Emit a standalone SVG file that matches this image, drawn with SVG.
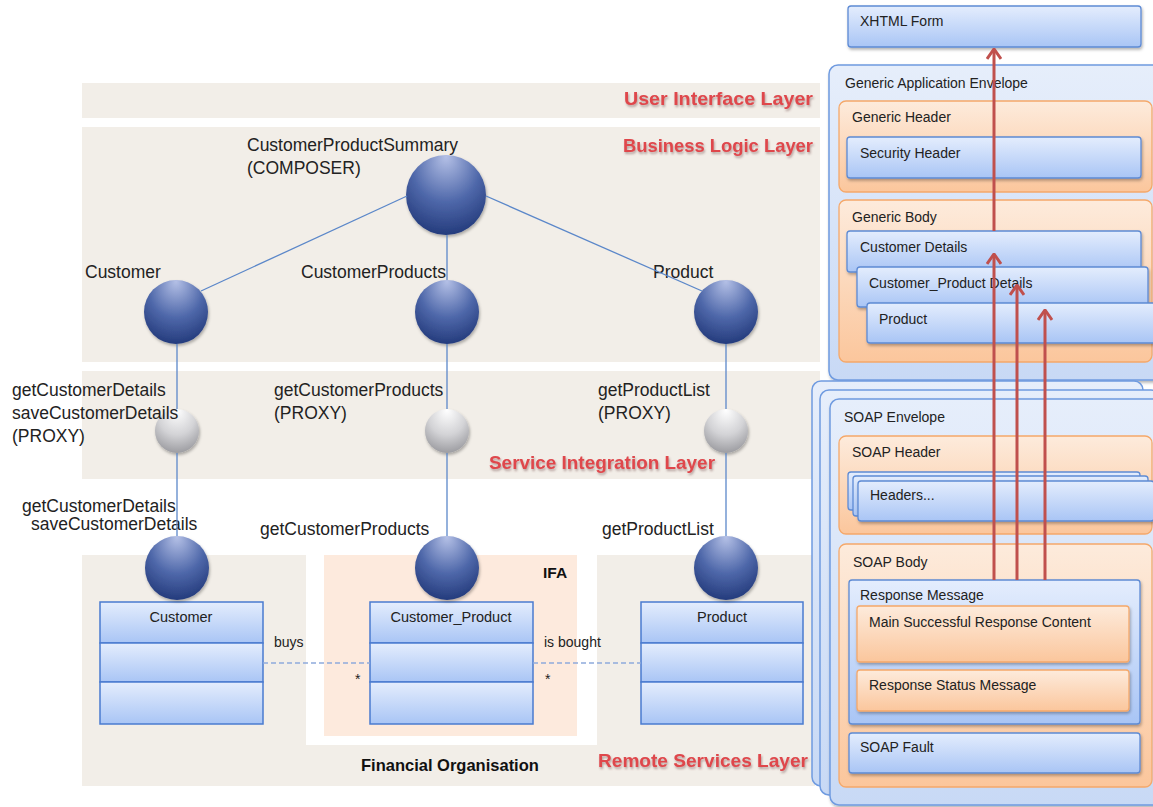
<svg xmlns="http://www.w3.org/2000/svg" width="1153" height="807" viewBox="0 0 1153 807">
  <defs>
    <linearGradient id="gBlue" x1="0" y1="0" x2="0" y2="1">
      <stop offset="0" stop-color="#e4edfd"/>
      <stop offset="1" stop-color="#a9c5f5"/>
    </linearGradient>
    <linearGradient id="gOrange" x1="0" y1="0" x2="0" y2="1">
      <stop offset="0" stop-color="#fdebdc"/>
      <stop offset="1" stop-color="#fbc69c"/>
    </linearGradient>
    <linearGradient id="gEnv" x1="0" y1="0" x2="0" y2="1">
      <stop offset="0" stop-color="#e6eefb"/>
      <stop offset="1" stop-color="#c8d9f5"/>
    </linearGradient>
    <radialGradient id="gSphere" cx="0.5" cy="0.3" r="0.75" fx="0.5" fy="0.02">
      <stop offset="0" stop-color="#b4c0e6"/>
      <stop offset="0.55" stop-color="#4f68aa"/>
      <stop offset="1" stop-color="#1f3677"/>
    </radialGradient>
    <radialGradient id="gProxy" cx="0.5" cy="0.3" r="0.75" fx="0.5" fy="0.02">
      <stop offset="0" stop-color="#ffffff"/>
      <stop offset="0.55" stop-color="#d3d3d6"/>
      <stop offset="1" stop-color="#96969b"/>
    </radialGradient>
    <filter id="shadow" x="-10%" y="-10%" width="125%" height="130%">
      <feDropShadow dx="1" dy="2" stdDeviation="1.4" flood-color="#000" flood-opacity="0.3"/>
    </filter>
    <filter id="redShadow" x="-5%" y="-30%" width="110%" height="170%">
      <feDropShadow dx="1" dy="2" stdDeviation="1.2" flood-color="#6b4040" flood-opacity="0.45"/>
    </filter>
    <marker id="arrowHead" viewBox="0 0 12 16" refX="11" refY="8" markerWidth="12" markerHeight="16" markerUnits="userSpaceOnUse" orient="auto">
      <path d="M1,1 L11,8 L1,15" fill="none" stroke="#c0504d" stroke-width="3"/>
    </marker>
    <style>
      .band { fill: #f2eee8; }
      .lbl { font-family: "Liberation Sans", Arial, sans-serif; font-size: 17.5px; fill: #222; }
      .layer { font-family: "Liberation Sans", Arial, sans-serif; font-size: 19px; font-weight: bold; fill: #df474c; filter: url(#redShadow); }
      .box { fill: url(#gBlue); stroke: #5d8ad4; stroke-width: 1.3; }
      .cls { fill: url(#gBlue); stroke: #4a7bcf; stroke-width: 1.5; }
      .env { fill: url(#gEnv); stroke: #6f9be0; stroke-width: 1.5; }
      .org { fill: url(#gOrange); stroke: #f5a86a; stroke-width: 1.3; }
      .txt { font-family: "Liberation Sans", Arial, sans-serif; font-size: 14px; fill: #222; }
      .title { font-family: "Liberation Sans", Arial, sans-serif; font-size: 14.5px; fill: #222; text-anchor: middle; }
      .bold { font-family: "Liberation Sans", Arial, sans-serif; font-weight: bold; fill: #111; }
      .sphere { fill: url(#gSphere); filter: url(#shadow); }
      .proxy { fill: url(#gProxy); filter: url(#shadow); }
      .link { stroke: #5b87c9; stroke-width: 1.3; fill: none; }
      .assoc { stroke: #8eaadb; stroke-width: 1.6; stroke-dasharray: 5 3; fill: none; }
      .flow { stroke: #c0504d; stroke-width: 3; fill: none; marker-end: url(#arrowHead); }
    </style>
  </defs>

  <rect width="1153" height="807" fill="#ffffff"/>

  <!-- layer bands -->
  <g id="layers">
    <rect class="band" x="82" y="83" width="738" height="35"/>
    <rect class="band" x="82" y="127" width="738" height="235"/>
    <rect class="band" x="82" y="371" width="738" height="108"/>
    <rect class="band" x="82" y="555" width="733" height="231"/>
    <rect x="306" y="555" width="291" height="190" fill="#ffffff"/>
    <rect x="324" y="555" width="253" height="181" fill="#fdeadd"/>
    <text class="layer" x="624" y="105" textLength="189" lengthAdjust="spacingAndGlyphs">User Interface Layer</text>
    <text class="layer" x="623" y="152" textLength="190" lengthAdjust="spacingAndGlyphs">Business Logic Layer</text>
    <text class="layer" x="489" y="469" textLength="226" lengthAdjust="spacingAndGlyphs">Service Integration Layer</text>
    <text class="layer" x="598" y="767" textLength="210" lengthAdjust="spacingAndGlyphs">Remote Services Layer</text>
    <text class="bold" x="361" y="771" font-size="16.5">Financial Organisation</text>
    <text class="bold" x="543" y="578" font-size="15.5">IFA</text>
  </g>

  <!-- business logic services -->
  <g id="composer">
    <circle class="sphere" cx="446" cy="195" r="40"/>
    <text class="lbl" x="247" y="151">CustomerProductSummary</text>
    <text class="lbl" x="247" y="174">(COMPOSER)</text>
  </g>
  <g id="bl-customer">
    <circle class="sphere" cx="176" cy="312" r="32"/>
    <text class="lbl" x="85" y="278">Customer</text>
  </g>
  <g id="bl-customerproducts">
    <circle class="sphere" cx="447" cy="312" r="32"/>
    <text class="lbl" x="301" y="278">CustomerProducts</text>
  </g>
  <g id="bl-product">
    <circle class="sphere" cx="726" cy="312" r="32"/>
    <text class="lbl" x="653" y="278">Product</text>
  </g>

  <!-- service integration proxies -->
  <g id="proxy-customer">
    <circle class="proxy" cx="177" cy="431" r="22"/>
    <text class="lbl" x="12" y="396">getCustomerDetails</text>
    <text class="lbl" x="12" y="419">saveCustomerDetails</text>
    <text class="lbl" x="12" y="442">(PROXY)</text>
  </g>
  <g id="proxy-customerproducts">
    <circle class="proxy" cx="447" cy="431" r="22"/>
    <text class="lbl" x="274" y="396">getCustomerProducts</text>
    <text class="lbl" x="274" y="419">(PROXY)</text>
  </g>
  <g id="proxy-product">
    <circle class="proxy" cx="726" cy="431" r="22"/>
    <text class="lbl" x="598" y="396">getProductList</text>
    <text class="lbl" x="598" y="419">(PROXY)</text>
  </g>

  <!-- remote services -->
  <g id="rs-customer">
    <rect class="cls" x="100" y="602" width="163" height="41"/>
    <rect class="cls" x="100" y="643" width="163" height="39"/>
    <rect class="cls" x="100" y="682" width="163" height="42"/>
    <text class="title" x="181" y="622">Customer</text>
    <circle class="sphere" cx="177" cy="568" r="32"/>
    <text class="lbl" x="22" y="512">getCustomerDetails</text>
    <text class="lbl" x="31" y="530">saveCustomerDetails</text>
  </g>
  <g id="rs-customerproduct">
    <rect class="cls" x="370" y="602" width="163" height="41"/>
    <rect class="cls" x="370" y="643" width="163" height="39"/>
    <rect class="cls" x="370" y="682" width="163" height="42"/>
    <text class="title" x="451" y="622">Customer_Product</text>
    <circle class="sphere" cx="447" cy="568" r="32"/>
    <text class="lbl" x="260" y="535">getCustomerProducts</text>
  </g>
  <g id="rs-product">
    <rect class="cls" x="641" y="602" width="162" height="41"/>
    <rect class="cls" x="641" y="643" width="162" height="39"/>
    <rect class="cls" x="641" y="682" width="162" height="42"/>
    <text class="title" x="722" y="622">Product</text>
    <circle class="sphere" cx="726" cy="568" r="32"/>
    <text class="lbl" x="602" y="535">getProductList</text>
  </g>

  <!-- XHTML form -->
  <g id="xhtml-form">
    <rect class="box" x="848" y="6" width="293" height="41" rx="3" filter="url(#shadow)"/>
    <text class="txt" x="860" y="26">XHTML Form</text>
  </g>

  <!-- generic application envelope -->
  <g id="generic-envelope">
    <rect class="env" x="829" y="65" width="340" height="315" rx="9" filter="url(#shadow)"/>
    <text class="txt" x="845" y="88">Generic Application Envelope</text>
  </g>
  <g id="generic-header">
    <rect class="org" x="839" y="101" width="313" height="91" rx="7"/>
    <text class="txt" x="852" y="122">Generic Header</text>
    <rect class="box" x="847" y="137" width="294" height="41" rx="3" filter="url(#shadow)"/>
    <text class="txt" x="860" y="158">Security Header</text>
  </g>
  <g id="generic-body">
    <rect class="org" x="839" y="200" width="313" height="162" rx="7"/>
    <text class="txt" x="852" y="222">Generic Body</text>
  </g>
  <g id="customer-details">
    <rect class="box" x="847" y="231" width="294" height="41" rx="3" filter="url(#shadow)"/>
    <text class="txt" x="860" y="252">Customer Details</text>
  </g>
  <g id="customer-product-details">
    <rect class="box" x="857" y="267" width="291" height="40" rx="3" filter="url(#shadow)"/>
    <text class="txt" x="869" y="288">Customer_Product Details</text>
  </g>
  <g id="product-details">
    <rect class="box" x="867" y="303" width="300" height="40" rx="3" filter="url(#shadow)"/>
    <text class="txt" x="879" y="324">Product</text>
  </g>

  <!-- SOAP envelope stack -->
  <g id="soap-envelope">
    <rect class="env" x="812" y="381" width="331" height="405" rx="9"/>
    <rect class="env" x="820" y="390" width="340" height="405" rx="9"/>
    <rect class="env" x="830" y="399" width="340" height="406" rx="9" filter="url(#shadow)"/>
    <text class="txt" x="844" y="422">SOAP Envelope</text>
  </g>
  <g id="soap-header">
    <rect class="org" x="839" y="436" width="313" height="98" rx="7"/>
    <text class="txt" x="852" y="457">SOAP Header</text>
    <rect class="box" x="848" y="472" width="292" height="38" rx="3"/>
    <rect class="box" x="853" y="476" width="295" height="40" rx="3"/>
    <rect class="box" x="858" y="481" width="296" height="40" rx="3" filter="url(#shadow)"/>
    <text class="txt" x="870" y="500">Headers...</text>
  </g>
  <g id="soap-body">
    <rect class="org" x="839" y="544" width="313" height="243" rx="7"/>
    <text class="txt" x="853" y="567">SOAP Body</text>
  </g>
  <g id="response-message">
    <rect class="box" x="849" y="580" width="291" height="144" rx="3" filter="url(#shadow)"/>
    <text class="txt" x="860" y="600">Response Message</text>
  </g>
  <g id="main-content">
    <rect class="org" x="857" y="606" width="272" height="56" rx="3" filter="url(#shadow)"/>
    <text class="txt" x="869" y="627">Main Successful Response Content</text>
  </g>
  <g id="status-message">
    <rect class="org" x="857" y="670" width="272" height="41" rx="3" filter="url(#shadow)"/>
    <text class="txt" x="869" y="690">Response Status  Message</text>
  </g>
  <g id="soap-fault">
    <rect class="box" x="849" y="733" width="291" height="40" rx="3" filter="url(#shadow)"/>
    <text class="txt" x="860" y="752">SOAP Fault</text>
  </g>

  <!-- connectors -->
  <g id="connectors">
    <line class="link" x1="407" y1="196" x2="201" y2="291"/>
    <line class="link" x1="486" y1="196" x2="702" y2="291"/>
    <line class="link" x1="447" y1="235" x2="447" y2="280"/>
    <line class="link" x1="177" y1="344" x2="177" y2="409"/>
    <line class="link" x1="177" y1="453" x2="177" y2="536"/>
    <line class="link" x1="447" y1="344" x2="447" y2="409"/>
    <line class="link" x1="447" y1="453" x2="447" y2="536"/>
    <line class="link" x1="726" y1="344" x2="726" y2="409"/>
    <line class="link" x1="726" y1="453" x2="726" y2="536"/>
    <line class="assoc" x1="263" y1="663" x2="370" y2="663"/>
    <line class="assoc" x1="533" y1="663" x2="641" y2="663"/>
    <text class="txt" x="274" y="647">buys</text>
    <text class="txt" x="355" y="684">*</text>
    <text class="txt" x="544" y="647">is bought</text>
    <text class="txt" x="545" y="684">*</text>
    <line class="flow" x1="994" y1="231" x2="994" y2="49"/>
    <line class="flow" x1="994" y1="580" x2="994" y2="254"/>
    <line class="flow" x1="1017" y1="580" x2="1017" y2="285"/>
    <line class="flow" x1="1045" y1="580" x2="1045" y2="310"/>
  </g>
</svg>
